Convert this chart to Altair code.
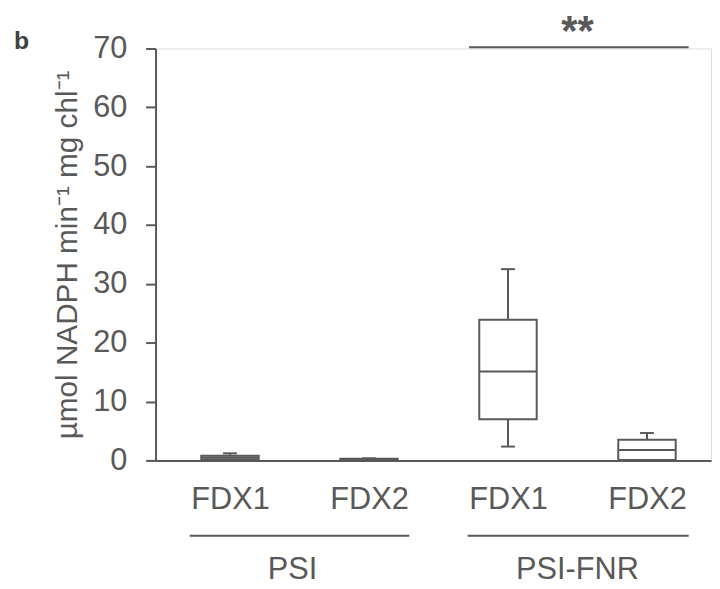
import altair as alt
import pandas as pd

# ---- data ----
categories = ["FDX1", "FDX2", "FDX1", "FDX2"]
groups = ["PSI", "PSI", "PSI-FNR", "PSI-FNR"]
whisker_min = [0.1, 0.0, 2.35, 0.0]
q1 = [0.2, 0.05, 7.0, 0.05]
median = [0.5, 0.15, 15.1, 1.75]
q3 = [0.8, 0.3, 23.9, 3.5]
whisker_max = [1.2, 0.35, 32.5, 4.65]

group_names = ["PSI", "PSI-FNR"]
group_centers = [0.45, 2.5]
group_line_start = [-0.29, 1.71]
group_line_end = [1.29, 3.30]

sig_label = ["**"]
sig_start = [1.72]
sig_end = [3.30]
sig_level = [70.2]
sig_center = [2.5]
sig_text_level = [70.6]

y_ticks = [0, 10, 20, 30, 40, 50, 60, 70]

GREY = "#595959"
FONT = "Liberation Sans"

boxes = pd.DataFrame({
    "pos": list(range(len(categories))),
    "cat": categories,
    "group": groups,
    "lo": whisker_min, "q1": q1, "med": median, "q3": q3, "hi": whisker_max,
})
grp = pd.DataFrame({"name": group_names, "c": group_centers,
                    "s": group_line_start, "e": group_line_end})
sig = pd.DataFrame({"t": sig_label, "s": sig_start, "e": sig_end,
                    "y": sig_level, "c": sig_center, "ty": sig_text_level})

label_expr = "[" + ",".join("'%s'" % c for c in categories) + "][datum.value]"

xscale = alt.Scale(domain=[-0.5, 3.425], nice=False, zero=False)
yscale = alt.Scale(domain=[0, 70], nice=False)

xenc = alt.X("pos:Q", scale=xscale, title=None,
             axis=alt.Axis(values=list(range(len(categories))), labelExpr=label_expr,
                           grid=False, ticks=False, domainColor=GREY, domainWidth=2,
                           labelColor=GREY, labelFont=FONT, labelFontSize=31,
                           labelPadding=25, labelBaseline="top"))
yaxis = alt.Axis(values=y_ticks, grid=False, tickSize=10, tickWidth=2, tickColor=GREY,
                 domainColor=GREY, domainWidth=2, labelColor=GREY, labelFont=FONT,
                 labelFontSize=31, labelPadding=19,
                 title="µmol NADPH min⁻¹ mg chl⁻¹", titleFont=FONT, titleFontSize=30,
                 titleFontWeight="normal", titleColor=GREY, titlePadding=10)

base = alt.Chart(boxes)

whisk_lo = base.mark_rule(color=GREY, strokeWidth=2).encode(
    x=xenc, y=alt.Y("lo:Q", scale=yscale, axis=yaxis), y2="q1:Q")
whisk_hi = base.mark_rule(color=GREY, strokeWidth=2).encode(
    x="pos:Q", y="q3:Q", y2="hi:Q")
box = base.mark_bar(size=58, fill="white", stroke=GREY, strokeWidth=2).encode(
    x="pos:Q", y="q1:Q", y2="q3:Q")
med = base.mark_tick(orient="horizontal", size=58, thickness=2, color=GREY, opacity=1).encode(
    x="pos:Q", y="med:Q")
cap_lo = base.mark_tick(orient="horizontal", size=14, thickness=2, color=GREY, opacity=1).encode(
    x="pos:Q", y="lo:Q")
cap_hi = base.mark_tick(orient="horizontal", size=14, thickness=2, color=GREY, opacity=1).encode(
    x="pos:Q", y="hi:Q")

grp_line = alt.Chart(grp).mark_rule(color=GREY, strokeWidth=2).encode(
    x="s:Q", x2="e:Q", y=alt.value(492))
grp_text = alt.Chart(grp).mark_text(font=FONT, fontSize=31, color=GREY,
                                    baseline="alphabetic", align="center").encode(
    x="c:Q", y=alt.value(536), text="name:N")

sig_line = alt.Chart(sig).mark_rule(color=GREY, strokeWidth=2).encode(
    x="s:Q", x2="e:Q", y="y:Q")
sig_text = alt.Chart(sig).mark_text(font=FONT, fontSize=42, fontWeight="bold", color=GREY,
                                    baseline="alphabetic", align="center").encode(
    x="c:Q", y="ty:Q", text="t:N")

panel = alt.Chart(pd.DataFrame({"t": ["b"]})).mark_text(
    font=FONT, fontSize=25, fontWeight="bold", color="#404040", align="left",
    baseline="alphabetic").encode(x=alt.value(-143), y=alt.value(1), text="t:N")

chart = alt.layer(whisk_lo, whisk_hi, box, med, cap_lo, cap_hi,
                  grp_line, grp_text, sig_line, sig_text, panel).properties(
    width=561, height=416,
    autosize=alt.AutoSizeParams(type="none"),
    padding={"left": 149, "top": 38, "right": 1, "bottom": 127},
).configure_view(stroke=None).configure(background="white")

chart.save("out.html", embed_options={"renderer": "svg", "actions": False})
